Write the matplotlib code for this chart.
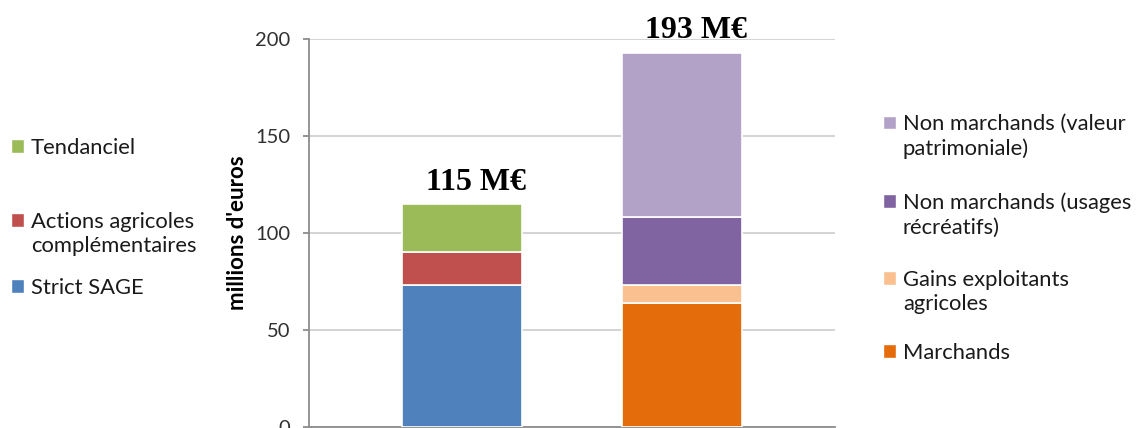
import matplotlib
matplotlib.use("Agg")
import matplotlib.pyplot as plt
from matplotlib.patches import Patch, Rectangle
from matplotlib.legend_handler import HandlerPatch

# ---- data ----
categories = ["Coûts", "Bénéfices"]
cost_labels = ["Strict SAGE", "Actions agricoles\ncomplémentaires", "Tendanciel"]
cost_values = [73, 17, 25]
cost_colors = ["#4F81BD", "#C0504D", "#9BBB59"]
benefit_labels = ["Marchands", "Gains exploitants\nagricoles",
                  "Non marchands (usages\nrécréatifs)",
                  "Non marchands (valeur\npatrimoniale)"]
benefit_values = [64, 9, 35, 85]
benefit_colors = ["#E46C0A", "#FAC090", "#8064A2", "#B3A2C7"]
totals = ["115 M€", "193 M€"]
yticks = [0, 50, 100, 150, 200]

plt.rcParams['font.family'] = ['Lato', 'DejaVu Sans']

W, H = 1137, 428
fig = plt.figure(figsize=(W / 100, H / 100), dpi=100)
ax = fig.add_axes([309 / W, 1 / H, (835 - 309) / W, (427 - 39) / H])

bw = 0.545
bottom = 0
for v, c in zip(cost_values, cost_colors):
    ax.bar(0, v, bw, bottom=bottom, color=c, edgecolor="white", linewidth=1.2, zorder=3)
    bottom += v
cost_total = bottom
bottom = 0
for v, c in zip(benefit_values, benefit_colors):
    ax.bar(1, v, bw, bottom=bottom, color=c, edgecolor="white", linewidth=1.2, zorder=3)
    bottom += v
ben_total = bottom

for x, tot, lab in zip([0, 1], [cost_total, ben_total], totals):
    ax.annotate(lab, (x, tot), xytext=(10, 10.3), textcoords="offset points",
                ha="center", va="baseline", fontsize=23, fontweight="bold",
                family="Liberation Serif", zorder=5)

ax.set_xlim(-0.695, 1.695)
ax.set_ylim(0, 200)
ax.set_yticks(yticks)
ax.set_xticks([])
ax.yaxis.grid(True, color="#d0d0d0", linewidth=1.3, zorder=0)
ax.set_axisbelow(True)
for s in ["top", "right"]:
    ax.spines[s].set_visible(False)
for s in ["left", "bottom"]:
    ax.spines[s].set_color("#8c8c8c")
    ax.spines[s].set_linewidth(1.3)
ax.tick_params(axis="y", length=4.5, width=1.3, color="#8c8c8c",
               labelsize=14.5, labelcolor="#303030", pad=9)
ax.set_ylabel("millions d'euros", fontsize=16, fontweight="bold")
ax.yaxis.set_label_coords(-0.116, 0.5)

# legends: one entry each, placed at the reference positions
FS = 15.8
LS = 1.3
leg_kw = dict(frameon=False, fontsize=FS, handlelength=0.6, handleheight=0.6,
              handletextpad=0.3, borderpad=0, borderaxespad=0, labelcolor="#1a1a1a",
              loc="center left")


def make_handler(nlines):
    shift = 0.5 * (nlines - 1) * LS * FS

    def patch_func(legend, orig_handle, xdescent, ydescent, width, height, fontsize):
        return Rectangle((-xdescent, -ydescent + shift), width, height)
    return HandlerPatch(patch_func=patch_func)


def entry(color, label, x, yc):
    h = Patch(facecolor=color, edgecolor="white")
    lg = fig.legend([h], [label], bbox_to_anchor=(x / W, 1 - yc / H),
                    handler_map={h: make_handler(label.count("\n") + 1)}, **leg_kw)
    for t in lg.get_texts():
        t.set_linespacing(LS)
    return lg


entry(cost_colors[2], cost_labels[2], 11, 148)
entry(cost_colors[1], cost_labels[1], 11, 234)
entry(cost_colors[0], cost_labels[0], 11, 288)

ben_y = [353, 292, 215, 136.5]
for c, l, y in zip(benefit_colors, benefit_labels, ben_y):
    entry(c, l, 883, y)

fig.savefig("out.png", dpi=100)
